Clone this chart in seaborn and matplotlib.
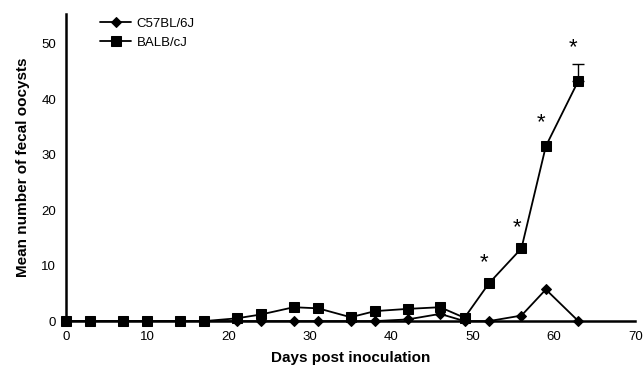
import numpy as np
import pandas as pd
import seaborn as sns
import matplotlib
matplotlib.use("Agg")
import matplotlib.pyplot as plt

days = [0, 3, 7, 10, 14, 17, 21, 24, 28, 31, 35, 38, 42, 46, 49, 52, 56, 59, 63]
c57 = [0, 0, 0, 0, 0, 0, 0, 0, 0, 0, 0, 0, 0.3, 1.3, 0, 0, 1.0, 5.7, 0]
balb = [0, 0, 0, 0, 0, 0, 0.5, 1.2, 2.5, 2.3, 0.7, 1.8, 2.2, 2.5, 0.6, 6.8, 13.1, 31.5, 43.3]
balb_err_day = 63
balb_err = 3.0
star_days = [52, 56, 59, 63]
star_vals = [10.6, 16.9, 35.8, 49.3]
series_names = ["C57BL/6J", "BALB/cJ"]

df = pd.DataFrame({
    "day": days * 2,
    "oocysts": c57 + balb,
    "strain": [series_names[0]] * len(days) + [series_names[1]] * len(days),
})

sns.set_style("white")
plt.rcParams["font.family"] = ["Liberation Sans", "DejaVu Sans"]
plt.rcParams["text.color"] = "black"
plt.rcParams["axes.labelcolor"] = "black"
plt.rcParams["xtick.color"] = "black"
plt.rcParams["ytick.color"] = "black"

fig = plt.figure(figsize=(6.44, 3.76), dpi=100)
ax = fig.add_axes([0.1025, 0.146, 0.884, 0.818])

sns.lineplot(data=df, x="day", y="oocysts", hue="strain", style="strain",
             markers={"C57BL/6J": "D", "BALB/cJ": "s"}, dashes=False,
             palette={"C57BL/6J": "black", "BALB/cJ": "black"},
             markersize=7, linewidth=1.3, markeredgecolor="black",
             ax=ax, clip_on=False, legend=True)
for line in ax.lines:
    if line.get_marker() == "D":
        line.set_markersize(5)
    line.set_clip_on(False)

ax.errorbar([balb_err_day], [balb[-1]], yerr=[[0], [balb_err]], fmt="none",
            ecolor="black", elinewidth=1, capsize=4, capthick=1)

for d, v in zip(star_days, star_vals):
    ax.text(d - 0.6, v, "*", ha="center", va="center", fontsize=16)

ax.set_xlim(0, 70)
ax.set_ylim(0, 55.4)
ax.set_xticks(range(0, 71, 10))
ax.set_yticks(range(0, 51, 10))
ax.tick_params(axis="both", direction="inout", length=7, width=1.5, labelsize=9.5,
               color="black", labelcolor="black")
for s in ["top", "right"]:
    ax.spines[s].set_visible(False)
for s in ["left", "bottom"]:
    ax.spines[s].set_linewidth(1.8)
    ax.spines[s].set_color("black")

ax.set_xlabel("Days post inoculation", fontsize=11, fontweight="bold", labelpad=6, color="black")
ax.set_ylabel("Mean number of fecal oocysts", fontsize=11, fontweight="bold", labelpad=8, color="black")

leg = ax.legend(loc="upper left", bbox_to_anchor=(0.05, 1.005), frameon=False,
                fontsize=9.5, handlelength=2.4, handletextpad=0.4,
                borderaxespad=0, labelspacing=0.55)

fig.savefig("out.png", dpi=100)
